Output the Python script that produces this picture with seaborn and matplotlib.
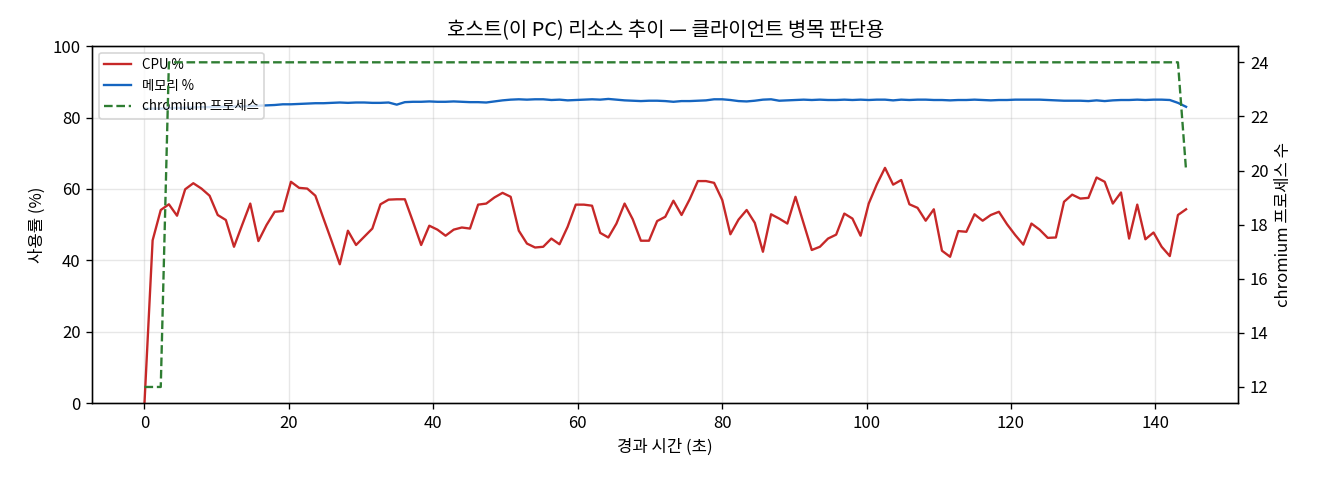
import numpy as np
import pandas as pd
import matplotlib
matplotlib.use("Agg")
import matplotlib.pyplot as plt
import seaborn as sns

plt.rcParams['font.family'] = ['Noto Sans CJK KR', 'DejaVu Sans']
plt.rcParams['axes.unicode_minus'] = False

# sampling step (seconds): 129 samples over ~144.3 s
step_sec = 1.127

cpu_pct = [
    0.0, 45.6, 54.1, 55.7, 52.5, 59.9, 61.6, 60.1, 58.1, 52.7,
    51.3, 43.8, 49.9, 55.9, 45.4, 49.9, 53.6, 53.8, 62.0, 60.3,
    60.1, 58.1, 51.7, 45.4, 38.9, 48.3, 44.3, 46.6, 48.9, 55.7,
    57.0, 57.1, 57.1, 50.8, 44.3, 49.7, 48.6, 46.9, 48.6, 49.2,
    48.9, 55.6, 55.9, 57.6, 58.9, 57.8, 48.3, 44.7, 43.6, 43.8,
    46.1, 44.5, 49.4, 55.6, 55.6, 55.3, 47.7, 46.4, 50.3, 55.9,
    51.5, 45.5, 45.5, 51.0, 52.2, 56.7, 52.7, 57.1, 62.2, 62.2,
    61.7, 56.9, 47.3, 51.4, 54.1, 50.5, 42.4, 52.9, 51.7, 50.3,
    57.8, 50.3, 42.9, 43.8, 46.1, 47.2, 53.1, 51.7, 46.9, 55.9,
    61.3, 65.9, 61.2, 62.5, 55.7, 54.7, 51.1, 54.3, 42.7, 41.0,
    48.2, 48.0, 52.9, 51.1, 52.7, 53.6, 50.1, 47.1, 44.4, 50.3,
    48.6, 46.3, 46.4, 56.4, 58.4, 57.3, 57.5, 63.2, 62.0, 55.9,
    59.0, 46.1, 55.6, 45.9, 47.8, 43.8, 41.2, 52.7, 54.3,
]

mem_pct = [
    82.4, 82.5, 82.5, 82.6, 82.7, 82.7, 82.8, 82.9, 82.9, 83.0,
    83.0, 83.1, 83.1, 83.2, 83.3, 83.4, 83.5, 83.7, 83.7, 83.8,
    83.9, 84.0, 84.0, 84.1, 84.2, 84.1, 84.2, 84.2, 84.1, 84.1,
    84.2, 83.6, 84.3, 84.4, 84.4, 84.5, 84.4, 84.4, 84.5, 84.4,
    84.3, 84.3, 84.2, 84.5, 84.8, 85.0, 85.1, 85.0, 85.1, 85.1,
    84.9, 85.0, 84.8, 84.9, 85.0, 85.1, 85.0, 85.2, 85.0, 84.8,
    84.7, 84.6, 84.7, 84.7, 84.6, 84.4, 84.6, 84.6, 84.7, 84.8,
    85.1, 85.1, 84.9, 84.6, 84.5, 84.7, 85.0, 85.1, 84.7, 84.8,
    84.9, 85.0, 84.9, 85.0, 84.9, 84.9, 85.0, 84.9, 85.0, 84.9,
    85.0, 85.0, 84.8, 85.0, 84.9, 85.0, 85.0, 84.9, 84.9, 84.8,
    84.9, 84.9, 85.0, 84.9, 84.8, 84.9, 84.9, 85.0, 85.0, 85.0,
    85.0, 84.9, 84.8, 84.7, 84.7, 84.7, 84.6, 84.8, 84.6, 84.8,
    84.9, 84.9, 85.0, 84.9, 85.0, 85.0, 84.9, 84.1, 83.0,
]

chromium_procs = [12, 12, 12] + [24] * 124 + [24, 20]

elapsed = np.arange(len(cpu_pct)) * step_sec

df = pd.DataFrame({
    "t": elapsed,
    "cpu": cpu_pct,
    "mem": mem_pct,
    "procs": chromium_procs,
})

fig, ax = plt.subplots(figsize=(11, 4), dpi=120)
sns.lineplot(data=df, x="t", y="cpu", ax=ax, color="#c62828", linewidth=1.4, label="CPU %")
sns.lineplot(data=df, x="t", y="mem", ax=ax, color="#1565c0", linewidth=1.4, label="메모리 %")
ax.set_ylim(0, 100)
ax.set_xlabel("경과 시간 (초)")
ax.set_ylabel("사용률 (%)")
ax.grid(True, alpha=0.3)
ax.set_title("호스트(이 PC) 리소스 추이 — 클라이언트 병목 판단용")

ax2 = ax.twinx()
sns.lineplot(data=df, x="t", y="procs", ax=ax2, color="#2e7d32", linewidth=1.4,
             linestyle="--", label="chromium 프로세스")
ax2.set_ylabel("chromium 프로세스 수")

# combine legends from both axes
h1, l1 = ax.get_legend_handles_labels()
h2, l2 = ax2.get_legend_handles_labels()
if ax2.get_legend() is not None:
    ax2.get_legend().remove()
ax.legend(h1 + h2, l1 + l2, loc="upper left", fontsize=8)

fig.subplots_adjust(left=0.07, right=0.938, top=0.904, bottom=0.16)
fig.savefig("out.png", dpi=120)
